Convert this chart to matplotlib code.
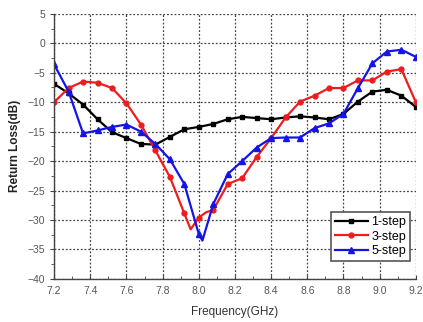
import matplotlib
matplotlib.use('Agg')
import matplotlib.pyplot as plt
from matplotlib.ticker import MultipleLocator

# Return loss of the 1/3/5-step designs

freq_1 = [7.20, 7.28, 7.36, 7.44, 7.52, 7.60, 7.68, 7.76, 7.84, 7.92, 8.00, 8.08, 8.16,
          8.24, 8.32, 8.40, 8.48, 8.56, 8.64, 8.72, 8.80, 8.88, 8.96, 9.04, 9.12, 9.20]
rl_1 = [-6.9, -8.5, -10.4, -12.9, -15.1, -16.1, -17.1, -17.2, -15.9, -14.6, -14.2, -13.7, -12.9,
        -12.5, -12.7, -12.9, -12.6, -12.4, -12.6, -12.9, -12.0, -9.9, -8.2, -7.9, -8.9, -10.8]

freq_3 = [7.20, 7.28, 7.36, 7.44, 7.52, 7.60, 7.68, 7.76, 7.84, 7.92, 7.955, 8.00, 8.04, 8.08,
          8.16, 8.24, 8.32, 8.40, 8.48, 8.56, 8.64, 8.72, 8.80, 8.88, 8.96, 9.04, 9.12, 9.20]
rl_3 = [-10.0, -7.6, -6.5, -6.7, -7.6, -10.2, -13.8, -18.2, -22.7, -28.9, -31.6, -29.6, -28.7, -28.3,
        -23.9, -22.9, -19.3, -16.1, -12.6, -9.9, -8.9, -7.6, -7.6, -6.3, -6.3, -4.8, -4.4, -10.0]

freq_5 = [7.20, 7.28, 7.36, 7.44, 7.52, 7.60, 7.68, 7.76, 7.84, 7.92, 8.00, 8.02, 8.08,
          8.16, 8.24, 8.32, 8.40, 8.48, 8.56, 8.64, 8.72, 8.80, 8.88, 8.96, 9.04, 9.12, 9.20]
rl_5 = [-3.6, -8.2, -15.3, -14.8, -14.2, -13.8, -15.0, -17.1, -19.7, -23.9, -32.4, -33.5, -27.3,
        -22.2, -20.0, -17.7, -16.1, -16.0, -16.0, -14.4, -13.6, -12.0, -7.6, -3.4, -1.4, -1.1, -2.3]

labels = ['1-step', '3-step', '5-step']


def grid_marks(freqs):
    # markers only on the 0.08 GHz sample grid
    out = []
    for i, f in enumerate(freqs):
        k = round((f - 7.2) / 0.08)
        if abs(7.2 + k * 0.08 - f) < 1e-6:
            out.append(i)
    return out


plt.rcParams['font.family'] = ['Liberation Sans', 'DejaVu Sans']

fig = plt.figure(figsize=(4.23, 3.22), dpi=100)
ax = fig.add_axes([0.128, 0.134, 0.855, 0.823])

ax.plot(freq_1, rl_1, color='black', lw=1.6, marker='s', ms=3.5,
        markevery=grid_marks(freq_1), label=labels[0])
ax.plot(freq_3, rl_3, color='#ee1c1c', lw=1.6, marker='o', ms=3.5,
        markevery=grid_marks(freq_3), label=labels[1])
ax.plot(freq_5, rl_5, color='#1414e6', lw=1.6, marker='^', ms=4.5,
        markevery=grid_marks(freq_5), label=labels[2])

ax.set_xlim(7.2, 9.2)
ax.set_ylim(-40, 5)
ax.xaxis.set_major_locator(MultipleLocator(0.2))
ax.xaxis.set_minor_locator(MultipleLocator(0.1))
ax.yaxis.set_major_locator(MultipleLocator(5))
ax.yaxis.set_minor_locator(MultipleLocator(2.5))
ax.set_xticklabels([f'{t:.1f}' for t in ax.get_xticks()])

ax.grid(True, which='major', color='#444444', ls=(0, (1.5, 1.5)), lw=0.9)
ax.spines['top'].set_visible(False)
ax.spines['right'].set_visible(False)
for s in ('left', 'bottom'):
    ax.spines[s].set_color('#444444')
    ax.spines[s].set_linewidth(1.0)
ax.tick_params(axis='both', which='both', colors='#444444', labelsize=7.5,
               labelcolor='#555555')
ax.tick_params(axis='x', which='major', direction='in', length=3, pad=5)
ax.tick_params(axis='x', which='minor', direction='in', length=2)
ax.tick_params(axis='y', which='major', direction='out', length=3)
ax.tick_params(axis='y', which='minor', direction='out', length=2)

ax.set_xlabel('Frequency(GHz)', fontsize=8.5, color='#333333', labelpad=7)
ax.set_ylabel('Return Loss(dB)', fontsize=8.5, fontweight='bold', color='#222222', labelpad=5)

leg = ax.legend(loc='lower right', bbox_to_anchor=(0.984, 0.068), borderaxespad=0,
                fontsize=9, fancybox=False, framealpha=1, edgecolor='#555555',
                handlelength=2.6, borderpad=0.3, labelspacing=0.2, handletextpad=0.3)
leg.get_frame().set_linewidth(1.2)

fig.savefig('out.png', dpi=100)
